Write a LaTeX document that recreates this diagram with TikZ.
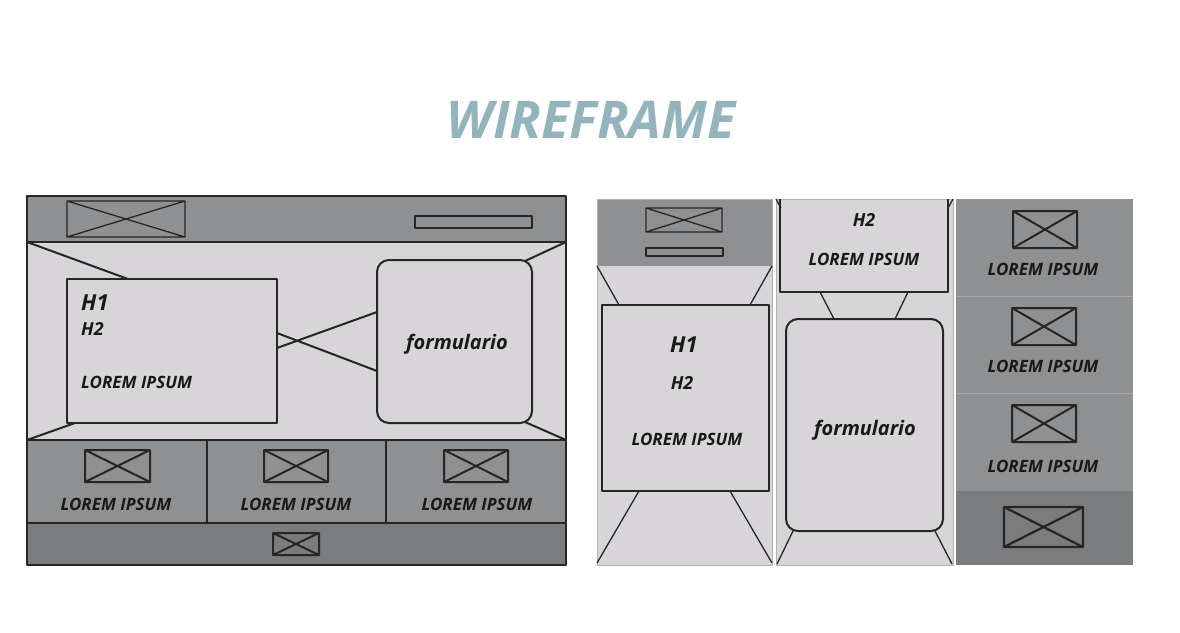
\documentclass[tikz,border=0pt]{standalone}
\usepackage{fontspec}
\setmainfont{Open Sans}
\definecolor{headgray}{HTML}{8F9092}
\definecolor{footgray}{HTML}{7B7C7E}
\definecolor{panel}{HTML}{D7D5D8}
\definecolor{titleblue}{HTML}{93B4BD}
\tikzset{
  frame/.style={draw=black!85, line width=2.2pt},
  wire/.style={draw=black!85, line width=2pt},
  thinwire/.style={draw=black!85, line width=1.3pt},
  lorem/.style={font=\fontsize{17}{19}\selectfont\bfseries\itshape, text=black!90, inner sep=0pt},
  headline/.style={font=\fontsize{22}{24}\selectfont\bfseries\itshape, text=black!90, inner sep=0pt},
  subline/.style={font=\fontsize{18}{20}\selectfont\bfseries\itshape, text=black!90, inner sep=0pt},
  formtext/.style={font=\fontsize{20}{22}\selectfont\bfseries\itshape, text=black!90, inner sep=0pt}
}
\begin{document}
\begin{tikzpicture}[x=1pt, y=-1pt, line join=round]
\useasboundingbox (0,0) rectangle (1180,632);
% crossed image placeholder
\def\xbox#1#2#3#4#5{\draw[#5] (#1,#2) rectangle (#3,#4) (#1,#2) -- (#3,#4) (#1,#4) -- (#3,#2);}

\node[font=\fontsize{52}{54}\selectfont\bfseries\itshape, text=titleblue] (title) at (591,120) {WIREFRAME};

% desktop version
\fill[headgray] (27,196) rectangle (566,242);
\fill[panel] (27,242) rectangle (566,440);
\fill[headgray] (27,440) rectangle (566,523);
\fill[footgray] (27,523) rectangle (566,565);
\xbox{67}{201}{185}{237}{thinwire}
\draw[wire] (415,216) rectangle (532,228);
\draw[wire] (27,242) -- (566,242) (27,440) -- (566,440) (27,523) -- (566,523);
\draw[wire] (207,440) -- (207,523) (386,440) -- (386,523);
% hero
\draw[wire] (27,242) -- (128,279) (566,242) -- (525,261);
\draw[wire] (27,440) -- (75,423) (566,440) -- (525,422);
\draw[wire, fill=panel] (67,279) rectangle (277,423);
\draw[wire, fill=panel, rounded corners=12pt] (377,260) rectangle (532,423);
\draw[wire] (277,333) -- (377,371) (277,348) -- (377,312);
\node[headline, anchor=west] (h1) at (81,303) {H1};
\node[subline, anchor=west] (h2) at (81,329) {H2};
\node[lorem, anchor=west] (hero) at (81,382) {LOREM IPSUM};
\node[formtext] (form) at (457,344) {formulario};
% cards
\xbox{85}{450}{150}{482}{wire}
\xbox{264}{450}{328}{482}{wire}
\xbox{444}{450}{508}{482}{wire}
\node[lorem] (card1) at (116,504) {LOREM IPSUM};
\node[lorem] (card2) at (296,504) {LOREM IPSUM};
\node[lorem] (card3) at (477,504) {LOREM IPSUM};
\xbox{273}{533}{319}{555}{wire}
\draw[frame] (27,196) rectangle (566,565);

% mobile version, first screen
\fill[headgray] (597,199) rectangle (772,266);
\fill[panel] (597,266) rectangle (772,565);
\draw[black!30, line width=0.6pt] (597,199) rectangle (772,565);
\xbox{646}{208}{722}{232}{thinwire}
\draw[wire] (646,248) rectangle (723,256);
\draw[thinwire] (597,266) -- (619,305) (772,266) -- (750,305);
\draw[thinwire] (639,491) -- (597,563) (730,491) -- (772,563);
\draw[wire, fill=panel] (602,305) rectangle (769,491);
\node[headline] (mh1) at (684,345) {H1};
\node[subline] (mh2) at (682,383) {H2};
\node[lorem] (mhero) at (687,439) {LOREM IPSUM};

% mobile version, second screen
\fill[panel] (776,199) rectangle (953,565);
\draw[black!30, line width=0.6pt] (776,199) rectangle (953,565);
\draw[thinwire] (776,199) -- (781,208) (953,199) -- (948,208);
\draw[wire] (780,199) -- (780,292) -- (948,292) -- (948,199);
\draw[thinwire] (820,292) -- (834,319) (908,292) -- (895,319);
\draw[wire, fill=panel, rounded corners=12pt] (786,319) rectangle (943,531);
\draw[thinwire] (793,531) -- (777,564) (935,531) -- (952,564);
\node[subline] (sh2) at (864,220) {H2};
\node[lorem] (shero) at (864,259) {LOREM IPSUM};
\node[formtext] (sform) at (865,430) {formulario};

% mobile version, third screen
\fill[headgray] (956,199) rectangle (1133,491);
\fill[footgray] (956,491) rectangle (1133,565);
\draw[black!35, line width=0.4pt] (956,296) -- (1133,296) (956,393) -- (1133,393);
\xbox{1013}{211}{1077}{248}{wire}
\xbox{1012}{308}{1076}{345}{wire}
\xbox{1012}{405}{1076}{442}{wire}
\xbox{1004}{507}{1083}{547}{frame}
\node[lorem] (row1) at (1043,269) {LOREM IPSUM};
\node[lorem] (row2) at (1043,366) {LOREM IPSUM};
\node[lorem] (row3) at (1043,466) {LOREM IPSUM};
\end{tikzpicture}
\end{document}
